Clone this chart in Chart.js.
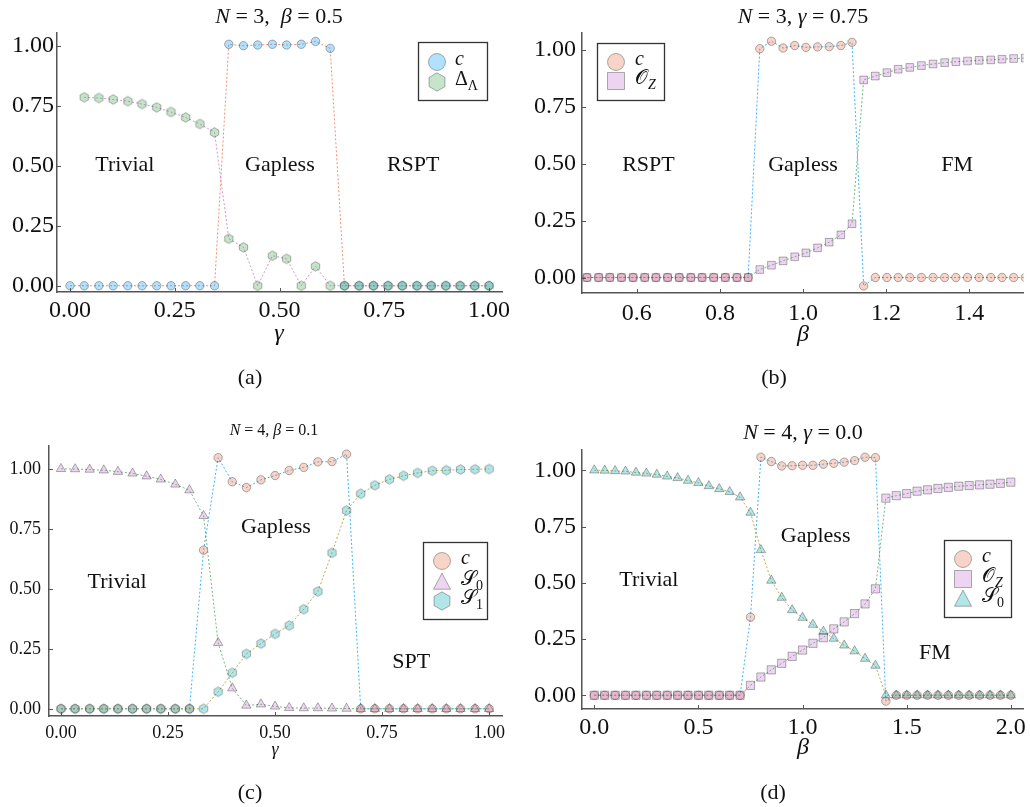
<!DOCTYPE html>
<html>
<head>
<meta charset="utf-8">
<script src="https://cdn.jsdelivr.net/npm/chart.js@4.4.1/dist/chart.umd.min.js"></script>
<style>
  body { margin: 0; background: #fff; width: 1030px; height: 807px; position: relative; overflow: hidden; }
  canvas { position: absolute; }
</style>
</head>
<body>
<canvas id="pa" width="515" height="405" style="left:0px;top:0px;width:515px;height:405px"></canvas>
<canvas id="pb" width="515" height="405" style="left:515px;top:0px;width:515px;height:405px"></canvas>
<canvas id="pc" width="515" height="402" style="left:0px;top:405px;width:515px;height:402px"></canvas>
<canvas id="pd" width="515" height="402" style="left:515px;top:405px;width:515px;height:402px"></canvas>
<script>
// (a) N = 3, beta = 0.5, sweep in gamma
const xA = [0.000, 0.034, 0.069, 0.103, 0.138, 0.172, 0.207, 0.241, 0.276, 0.310,
            0.345, 0.379, 0.414, 0.448, 0.483, 0.517, 0.552, 0.586, 0.621, 0.655,
            0.690, 0.724, 0.759, 0.793, 0.828, 0.862, 0.897, 0.931, 0.966, 1.000];
const cA = [0, 0, 0, 0, 0, 0, 0, 0, 0, 0,
            0, 1.006, 1.000, 1.003, 1.006, 1.003, 1.006, 1.018, 0.989, 0,
            0, 0, 0, 0, 0, 0, 0, 0, 0, 0];
const gapA = [null, 0.785, 0.782, 0.776, 0.769, 0.757, 0.743, 0.724, 0.701, 0.674,
              0.639, 0.196, 0.160, 0.000, 0.125, 0.112, 0.000, 0.081, 0.000, 0,
              0, 0, 0, 0, 0, 0, 0, 0, 0, 0];

// (b) N = 3, gamma = 0.75, sweep in beta
const xB = [0.452, 0.480, 0.508, 0.535, 0.563, 0.591, 0.619, 0.646, 0.674, 0.702,
            0.730, 0.757, 0.785, 0.813, 0.841, 0.868, 0.896, 0.924, 0.952, 0.980,
            1.007, 1.035, 1.063, 1.091, 1.118, 1.146, 1.174, 1.202, 1.229, 1.257,
            1.285, 1.313, 1.341, 1.368, 1.396, 1.424, 1.452, 1.479, 1.507, 1.535];
const cB = [0, 0, 0, 0, 0, 0, 0, 0, 0, 0,
            0, 0, 0, 0, 0, 0, 1.004, 1.037, 1.007, 1.018,
            1.010, 1.012, 1.013, 1.018, 1.032, -0.037, 0, 0, 0, 0,
            0, 0, 0, 0, 0, 0, 0, 0, 0, 0];
const ozB = [0, 0, 0, 0, 0, 0, 0, 0, 0, 0,
             0, 0, 0, 0, 0, 0, 0.035, 0.054, 0.073, 0.091,
             0.108, 0.130, 0.155, 0.187, 0.236, 0.867, 0.884, 0.899, 0.914, 0.922,
             0.930, 0.937, 0.943, 0.947, 0.950, 0.953, 0.955, 0.958, 0.961, 0.963];

// (c) N = 4, beta = 0.1, sweep in gamma
const xC = [0.000, 0.033, 0.067, 0.100, 0.133, 0.167, 0.200, 0.233, 0.267, 0.300,
            0.333, 0.367, 0.400, 0.433, 0.467, 0.500, 0.533, 0.567, 0.600, 0.633,
            0.667, 0.700, 0.733, 0.767, 0.800, 0.833, 0.867, 0.900, 0.933, 0.967, 1.000];
const cC = [0, 0, 0, 0, 0, 0, 0, 0, 0, 0,
            0.661, 1.046, 0.946, 0.922, 0.954, 0.972, 0.993, 1.006, 1.029, 1.030,
            1.061, 0, 0, 0, 0, 0, 0, 0, 0, 0, 0];
const s0C = [1.000, 0.999, 0.997, 0.994, 0.988, 0.981, 0.969, 0.956, 0.935, 0.911,
             0.804, 0.275, 0.086, 0.014, 0.019, 0.010, 0.004, 0.003, 0.003, 0.002,
             0.001, 0, 0, 0, 0, 0, 0, 0, 0, 0, 0];
const s1C = [0, 0, 0, 0, 0, 0, 0, 0, 0, 0,
             0, 0.071, 0.150, 0.229, 0.272, 0.312, 0.347, 0.415, 0.489, 0.650,
             0.826, 0.896, 0.931, 0.956, 0.971, 0.983, 0.992, 0.994, 0.997, 0.998, 0.999];

// (d) N = 4, gamma = 0.0, sweep in beta
const xD = [0.00, 0.05, 0.10, 0.15, 0.20, 0.25, 0.30, 0.35, 0.40, 0.45,
            0.50, 0.55, 0.60, 0.65, 0.70, 0.75, 0.80, 0.85, 0.90, 0.95,
            1.00, 1.05, 1.10, 1.15, 1.20, 1.25, 1.30, 1.35, 1.40, 1.45,
            1.50, 1.55, 1.60, 1.65, 1.70, 1.75, 1.80, 1.85, 1.90, 1.95, 2.00];
const cD = [0, 0, 0, 0, 0, 0, 0, 0, 0, 0,
            0, 0, 0, 0, 0, 0.347, 1.058, 1.039, 1.019, 1.020,
            1.022, 1.022, 1.027, 1.031, 1.036, 1.043, 1.058, 1.056, -0.026, 0,
            0, 0, 0, 0, 0, 0, 0, 0, 0, 0, 0];
const ozD = [0, 0, 0, 0, 0, 0, 0, 0, 0, 0,
             0, 0, 0, 0, 0, 0.044, 0.081, 0.113, 0.142, 0.173,
             0.201, 0.231, 0.256, 0.295, 0.326, 0.363, 0.406, 0.473, 0.876, 0.887,
             0.896, 0.907, 0.913, 0.919, 0.924, 0.929, 0.932, 0.935, 0.938, 0.942, 0.947];
const s0D = [1.000, 0.999, 0.997, 0.995, 0.990, 0.986, 0.981, 0.973, 0.966, 0.954,
             0.944, 0.930, 0.917, 0.904, 0.880, 0.812, 0.646, 0.510, 0.434, 0.379,
             0.345, 0.314, 0.283, 0.252, 0.222, 0.196, 0.163, 0.132, 0, 0,
             0, 0, 0, 0, 0, 0, 0, 0, 0, 0, 0];

const ticks01 = [0, 0.25, 0.5, 0.75, 1.0];
const ticksB = [0.6, 0.8, 1.0, 1.2, 1.4];
const ticksD = [0.0, 0.5, 1.0, 1.5, 2.0];

const SERIF = '"Liberation Serif", "DejaVu Serif", serif';
// palette
const BLUE = '0,154,250', ORANGE = '227,111,71', GREEN = '62,164,78',
      PURPLE = '195,113,210', OLIVE = '172,142,24', CYAN = '0,170,174';
const EDGE = 'rgba(0,0,0,0.3)';

function hexPath(g, x, y, r) {
  g.beginPath();
  for (let k = 0; k < 6; k++) {
    const a = (-90 + 60 * k) * Math.PI / 180;
    const px = x + r * Math.cos(a), py = y + r * Math.sin(a);
    if (k === 0) g.moveTo(px, py); else g.lineTo(px, py);
  }
  g.closePath();
}

function hexImg(rgb, r) {
  const s = Math.ceil(2 * r + 3);
  const cv = document.createElement('canvas');
  cv.width = s; cv.height = s;
  const g = cv.getContext('2d');
  hexPath(g, s / 2, s / 2, r);
  g.fillStyle = `rgba(${rgb},0.3)`;
  g.fill();
  g.strokeStyle = EDGE;
  g.lineWidth = 1;
  g.stroke();
  return cv;
}

function drawMarker(g, shape, x, y, r, rgb) {
  g.save();
  g.fillStyle = `rgba(${rgb},0.3)`;
  g.strokeStyle = EDGE;
  g.lineWidth = 1;
  g.beginPath();
  if (shape === 'circle') g.arc(x, y, r, 0, Math.PI * 2);
  else if (shape === 'rect') g.rect(x - r, y - r, 2 * r, 2 * r);
  else if (shape === 'triangle') {
    g.moveTo(x, y - r * 1.05);
    g.lineTo(x + r * 1.0, y + r * 0.85);
    g.lineTo(x - r * 1.0, y + r * 0.85);
    g.closePath();
  } else hexPath(g, x, y, r * 1.08);
  g.fill();
  g.stroke();
  g.restore();
}

function drawRich(g, parts, x, y, size, align) {
  const fonts = parts.map(p => `${p.i ? 'italic ' : ''}${p.sub ? Math.round(size * 0.7) : size}px ${SERIF}`);
  let w = 0;
  const ws = parts.map((p, k) => { g.font = fonts[k]; const m = g.measureText(p.t).width; w += m; return m; });
  let cx = align === 'center' ? x - w / 2 : x;
  g.textBaseline = 'middle';
  g.textAlign = 'left';
  g.fillStyle = '#111';
  parts.forEach((p, k) => {
    g.font = fonts[k];
    g.fillText(p.t, cx, y + (p.sub ? size * 0.32 : 0));
    cx += ws[k];
  });
}

function series(xs, ys, o) {
  return {
    data: xs.map((x, i) => ({ x: x, y: ys[i] })),
    showLine: true,
    borderColor: `rgba(${o.line},0.75)`,
    borderWidth: 1,
    borderDash: [2, 2],
    pointStyle: o.shape === 'hex' ? hexImg(o.fill, o.r) : o.shape,
    pointRadius: o.r,
    pointHoverRadius: o.r,
    pointBackgroundColor: `rgba(${o.fill},0.3)`,
    pointBorderColor: EDGE,
    pointBorderWidth: 1,
    tension: 0
  };
}

function makeDecor(P) {
  return {
    id: 'decor',
    afterDraw(chart) {
      const g = chart.ctx, a = chart.chartArea;
      const xs = chart.scales.x, ys = chart.scales.y;
      g.save();
      // inward tick marks
      g.strokeStyle = '#555';
      g.lineWidth = 1;
      g.beginPath();
      xs.ticks.forEach(t => {
        const px = Math.round(xs.getPixelForValue(t.value)) + 0.5;
        g.moveTo(px, a.bottom); g.lineTo(px, a.bottom - 4);
      });
      ys.ticks.forEach(t => {
        const py = Math.round(ys.getPixelForValue(t.value)) + 0.5;
        g.moveTo(a.left, py); g.lineTo(a.left + 4, py);
      });
      g.stroke();
      // texts
      drawRich(g, P.title, P.titleAt[0], P.titleAt[1], P.titleSize, 'center');
      drawRich(g, [{ t: P.xlabel, i: true }], P.xlabelAt[0], P.xlabelAt[1], P.xlabelSize, 'center');
      drawRich(g, [{ t: P.tag }], P.tagAt[0], P.tagAt[1], 22, 'center');
      P.regions.forEach(r => {
        drawRich(g, [{ t: r[0] }], xs.getPixelForValue(r[1]), ys.getPixelForValue(r[2]), 22, 'center');
      });
      // legend
      const L = P.legend;
      g.fillStyle = '#fff';
      g.fillRect(L.box[0], L.box[1], L.box[2], L.box[3]);
      g.strokeStyle = '#333';
      g.lineWidth = 1.3;
      g.strokeRect(L.box[0] + 0.5, L.box[1] + 0.5, L.box[2], L.box[3]);
      L.items.forEach((it, k) => {
        drawMarker(g, it.shape, L.mx, L.rows[k], 8.5, it.fill);
        drawRich(g, it.label, L.tx, L.rows[k] - 2, 20, 'left');
      });
      g.restore();
    }
  };
}

function panel(id, P) {
  new Chart(document.getElementById(id), {
    type: 'scatter',
    data: { datasets: P.datasets },
    options: {
      responsive: false,
      animation: false,
      events: [],
      layout: { padding: { left: 0, top: P.pad[0], right: P.pad[1], bottom: 0 } },
      plugins: { legend: { display: false }, tooltip: { enabled: false }, title: { display: false } },
      scales: {
        x: {
          type: 'linear', min: P.xr[0], max: P.xr[1],
          afterBuildTicks: s => { s.ticks = P.xt.map(v => ({ value: v })); },
          afterFit: s => { s.height = P.xh; },
          grid: { display: false, drawTicks: false },
          border: { display: true, color: '#555', width: 1.5 },
          ticks: {
            autoSkip: false, maxRotation: 0, padding: P.xpad, color: '#111',
            font: { family: SERIF, size: P.tf },
            callback: v => Number(v).toFixed(P.xd)
          }
        },
        y: {
          type: 'linear', min: P.yr[0], max: P.yr[1],
          afterBuildTicks: s => { s.ticks = ticks01.map(v => ({ value: v })); },
          afterFit: s => { s.width = P.yw; },
          grid: { display: false, drawTicks: false },
          border: { display: true, color: '#555', width: 1.5 },
          ticks: {
            padding: P.ypad, color: '#111',
            font: { family: SERIF, size: P.tf },
            callback: v => Number(v).toFixed(2)
          }
        }
      }
    },
    plugins: [makeDecor(P)]
  });
}

const cLbl = [{ t: 'c', i: true }];
const ozLbl = [{ t: '𝒪' }, { t: 'Z', i: true, sub: true }];

panel('pa', {
  datasets: [
    series(xA, gapA, { line: PURPLE, fill: GREEN, shape: 'hex', r: 4.8 }),
    series(xA, cA, { line: ORANGE, fill: BLUE, shape: 'circle', r: 4.2 })
  ],
  xr: [-0.031, 1.031], yr: [-0.026, 1.053], xt: ticks01, xd: 2,
  pad: [33, 13], yw: 57, xh: 113, tf: 24, xpad: 4, ypad: 3,
  title: [{ t: 'N', i: true }, { t: ' = 3,  ' }, { t: 'β', i: true }, { t: ' = 0.5' }],
  titleAt: [279, 17], titleSize: 22,
  xlabel: 'γ', xlabelAt: [279, 334], xlabelSize: 24,
  tag: '(a)', tagAt: [250, 378],
  regions: [['Trivial', 0.131, 0.503], ['Gapless', 0.501, 0.503], ['RSPT', 0.819, 0.503]],
  legend: {
    box: [418, 42, 69, 58], mx: 437, tx: 455, rows: [62, 82],
    items: [
      { shape: 'circle', fill: BLUE, label: cLbl },
      { shape: 'hex', fill: GREEN, label: [{ t: 'Δ' }, { t: 'Λ', sub: true }] }
    ]
  }
});

panel('pb', {
  datasets: [
    series(xB, ozB, { line: GREEN, fill: PURPLE, shape: 'rect', r: 5.4 }),
    series(xB, cB, { line: BLUE, fill: ORANGE, shape: 'circle', r: 4.2 })
  ],
  xr: [0.468, 1.531], yr: [-0.068, 1.073], xt: ticksB, xd: 1,
  pad: [33, 4], yw: 67, xh: 112, tf: 24, xpad: 6, ypad: 6,
  title: [{ t: 'N', i: true }, { t: ' = 3, ' }, { t: 'γ', i: true }, { t: ' = 0.75' }],
  titleAt: [288, 17], titleSize: 22,
  xlabel: 'β', xlabelAt: [288, 335], xlabelSize: 24,
  tag: '(b)', tagAt: [259, 378],
  regions: [['RSPT', 0.628, 0.493], ['Gapless', 1.0, 0.493], ['FM', 1.371, 0.493]],
  legend: {
    box: [82, 43, 67, 57], mx: 101, tx: 120, rows: [62, 81],
    items: [
      { shape: 'circle', fill: ORANGE, label: cLbl },
      { shape: 'rect', fill: PURPLE, label: ozLbl }
    ]
  }
});

panel('pc', {
  datasets: [
    series(xC, s1C, { line: OLIVE, fill: CYAN, shape: 'hex', r: 4.8 }),
    series(xC, s0C, { line: GREEN, fill: PURPLE, shape: 'triangle', r: 5.4 }),
    series(xC, cC, { line: BLUE, fill: ORANGE, shape: 'circle', r: 4.2 })
  ],
  xr: [-0.028, 1.030], yr: [-0.030, 1.095], xt: ticks01, xd: 2,
  pad: [41, 13], yw: 49, xh: 91, tf: 18, xpad: 6, ypad: 8,
  title: [{ t: 'N', i: true }, { t: ' = 4, ' }, { t: 'β', i: true }, { t: ' = 0.1' }],
  titleAt: [274, 26], titleSize: 16,
  xlabel: 'γ', xlabelAt: [275, 345], xlabelSize: 18,
  tag: '(c)', tagAt: [250, 388],
  regions: [['Trivial', 0.131, 0.528], ['Gapless', 0.502, 0.757], ['SPT', 0.818, 0.195]],
  legend: {
    box: [423, 137, 64, 77], mx: 442, tx: 461, rows: [156, 177, 196],
    items: [
      { shape: 'circle', fill: ORANGE, label: cLbl },
      { shape: 'triangle', fill: PURPLE, label: [{ t: '𝒮' }, { t: '0', sub: true }] },
      { shape: 'hex', fill: CYAN, label: [{ t: '𝒮' }, { t: '1', sub: true }] }
    ]
  }
});

panel('pd', {
  datasets: [
    series(xD, s0D, { line: OLIVE, fill: CYAN, shape: 'triangle', r: 5.4 }),
    series(xD, ozD, { line: GREEN, fill: PURPLE, shape: 'rect', r: 5.8 }),
    series(xD, cD, { line: BLUE, fill: ORANGE, shape: 'circle', r: 4.2 })
  ],
  xr: [-0.059, 2.059], yr: [-0.061, 1.09], xt: ticksD, xd: 1,
  pad: [45, 4], yw: 67, xh: 98, tf: 24, xpad: 4, ypad: 6,
  title: [{ t: 'N', i: true }, { t: ' = 4, ' }, { t: 'γ', i: true }, { t: ' = 0.0' }],
  titleAt: [288, 28], titleSize: 22,
  xlabel: 'β', xlabelAt: [288, 343], xlabelSize: 24,
  tag: '(d)', tagAt: [258, 388],
  regions: [['Trivial', 0.262, 0.512], ['Gapless', 1.063, 0.705], ['FM', 1.636, 0.189]],
  legend: {
    box: [429, 135, 67, 77], mx: 448, tx: 467, rows: [154, 174, 194],
    items: [
      { shape: 'circle', fill: ORANGE, label: cLbl },
      { shape: 'rect', fill: PURPLE, label: ozLbl },
      { shape: 'triangle', fill: CYAN, label: [{ t: '𝒮' }, { t: '0', sub: true }] }
    ]
  }
});
</script>
</body>
</html>
